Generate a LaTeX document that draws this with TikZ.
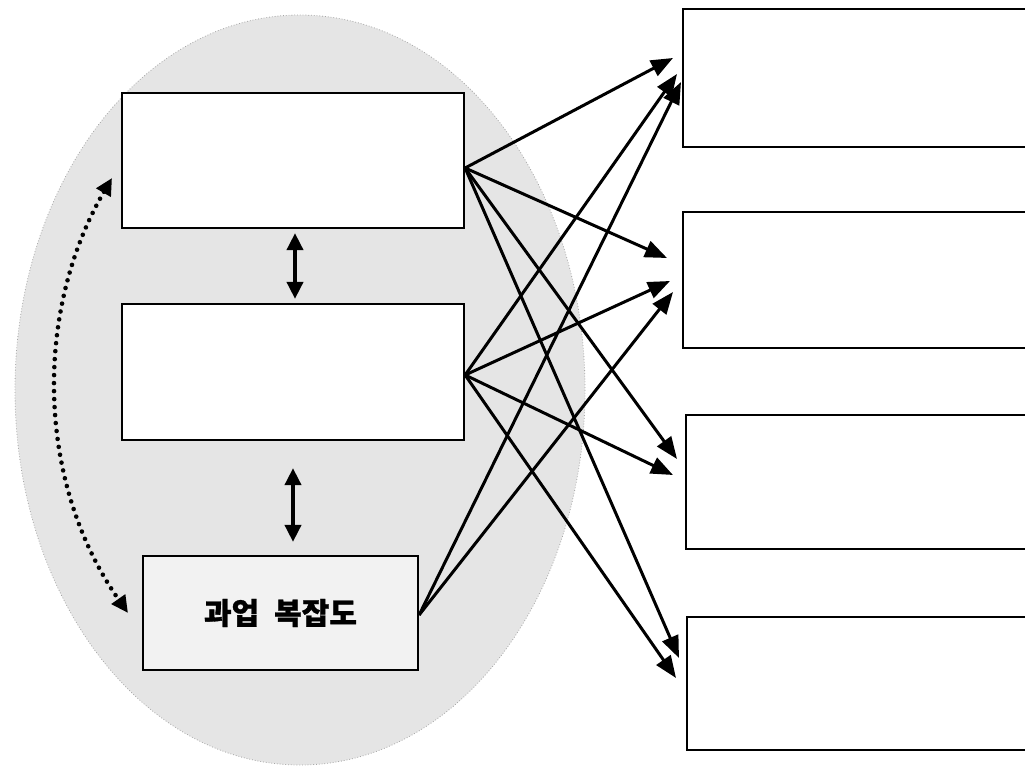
\documentclass[tikz,border=0pt]{standalone}
\usepackage{fontspec}
\newfontfamily\krfont[FakeBold=1]{Noto Sans CJK KR}
\usetikzlibrary{arrows.meta}
\begin{document}
\begin{tikzpicture}[x=1pt,y=-1pt,
  frame/.style={draw=black, line width=2.2pt, rectangle, inner sep=0pt},
  link/.style={line width=3pt, -{Triangle[length=22pt,width=17pt]}},
  pair/.style={line width=3.8pt, {Triangle[length=17pt,width=16pt]}-{Triangle[length=17pt,width=16pt]}},
  swing/.style={line width=4.6pt, line cap=round, dash pattern=on 0pt off 8pt,
                {Triangle[length=17pt,width=16pt]}-{Triangle[length=17pt,width=16pt]}}
]
\clip (0,0) rectangle (1025,770);
\fill[white] (0,0) rectangle (1025,770);

% shaded grouping ellipse
\fill[black!10] (300,390) ellipse [x radius=285, y radius=375];
\draw[black!35, dotted, line width=0.8pt] (300,390) ellipse [x radius=285, y radius=375];

% left column
\node[frame, fill=white, minimum width=342pt, minimum height=135pt] (a) at (293,160.5) {};
\node[frame, fill=white, minimum width=342pt, minimum height=136pt] (b) at (293,372) {};
\node[frame, fill=black!5, minimum width=275pt, minimum height=114pt] (c) at (280.5,613)
  {\krfont\bfseries\fontsize{30}{34}\selectfont 과업\hspace{15pt}복잡도};

% right column
\node[frame, fill=white, minimum width=347pt, minimum height=138pt] (r1) at (856.5,78) {};
\node[frame, fill=white, minimum width=347pt, minimum height=136pt] (r2) at (856.5,280) {};
\node[frame, fill=white, minimum width=344pt, minimum height=134pt] (r3) at (858,482) {};
\node[frame, fill=white, minimum width=343pt, minimum height=133pt] (r4) at (858.5,683.5) {};

% arrow targets in front of the right boxes
\coordinate (t11) at (673,58);
\coordinate (t12) at (677,74);
\coordinate (t13) at (681,82);
\coordinate (t21) at (667,258);
\coordinate (t22) at (670,281);
\coordinate (t23) at (673,292);
\coordinate (t31) at (677,459);
\coordinate (t32) at (673,475);
\coordinate (t41) at (679,658);
\coordinate (t42) at (676,678);

% sources
\coordinate (sa) at ([yshift=-7.5pt]a.east);
\coordinate (sb) at ([yshift=-3pt]b.east);
\coordinate (sc) at ([yshift=-2pt]c.east);

\draw[link] (sa) -- (t11);
\draw[link] (sa) -- (t21);
\draw[link] (sa) -- (t31);
\draw[link] (sa) -- (t41);
\draw[link] (sb) -- (t12);
\draw[link] (sb) -- (t22);
\draw[link] (sb) -- (t32);
\draw[link] (sb) -- (t42);
\draw[link] (sc) -- (t13);
\draw[link] (sc) -- (t23);

% vertical double arrows
\draw[pair] ([xshift=2pt,yshift=-4pt]a.south) -- ([xshift=2pt,yshift=4pt]b.north);
\draw[pair] ([yshift=-27pt]b.south) -- ([xshift=12.5pt,yshift=13pt]c.north);

% dotted curved link on the left
\coordinate (da) at (112,178);
\coordinate (dc) at (128,613);
\draw[swing] (da) .. controls (35,310) and (35,480) .. (dc);
\end{tikzpicture}
\end{document}
